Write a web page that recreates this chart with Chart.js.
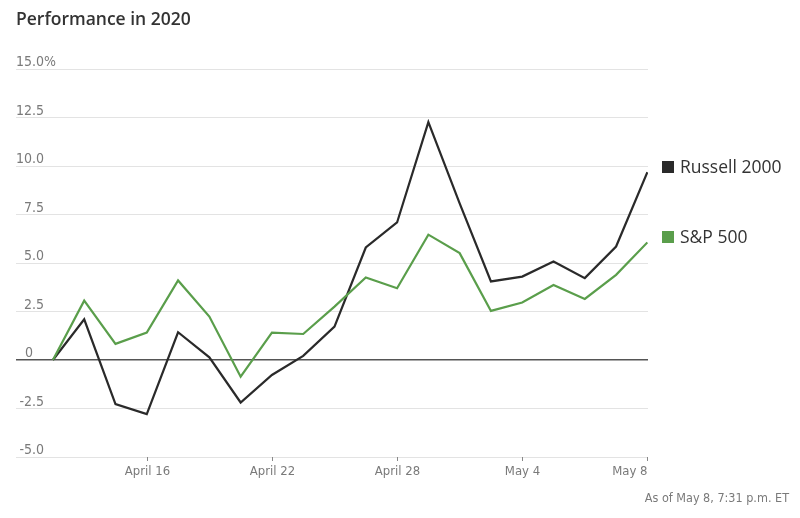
<!DOCTYPE html>
<html>
<head>
<meta charset="utf-8">
<script src="https://cdn.jsdelivr.net/npm/chart.js@4"></script>
<style>
  html, body { margin: 0; padding: 0; background: #fff; }
  #wrap { width: 800px; height: 518px; position: relative; }
</style>
</head>
<body>
<div id="wrap"><canvas id="c" width="800" height="518"></canvas></div>
<script>
const dates = ["Apr 13","Apr 14","Apr 15","Apr 16","Apr 17","Apr 20","Apr 21","Apr 22","Apr 23","Apr 24",
               "Apr 27","Apr 28","Apr 29","Apr 30","May 1","May 4","May 5","May 6","May 7","May 8"];
const russell = [0, 2.10, -2.27, -2.79, 1.43, 0.14, -2.19, -0.77, 0.21, 1.72,
                 5.80, 7.09, 12.26, 8.07, 4.05, 4.30, 5.08, 4.22, 5.85, 9.68];
const sp500 = [0, 3.06, 0.83, 1.41, 4.10, 2.24, -0.86, 1.41, 1.34, 2.75,
               4.25, 3.70, 6.46, 5.51, 2.53, 2.96, 3.87, 3.15, 4.39, 6.06];
const seriesNames = ["Russell 2000", "S&P 500"];
const xTickIndex = [3, 7, 11, 15, 19];
const xTickLabels = ["April 16", "April 22", "April 28", "May 4", "May 8"];
const yTickValues = [15, 12.5, 10, 7.5, 5, 2.5, 0, -2.5, -5];
const yTickLabels = ["15.0", "12.5", "10.0", "7.5", "5.0", "2.5", "0", "-2.5", "-5.0"];
const titleText = "Performance in 2020";
const noteText = "As of May 8, 7:31 p.m. ET";

const BLACK = "#2a2a2a";
const GREEN = "#5a9e4b";
const NARROW = "'Liberation Sans Narrow', 'DejaVu Sans Condensed', 'Liberation Sans', sans-serif";

const toPts = arr => arr.map((v, i) => ({ x: i, y: v }));

const textPlugin = {
  id: "texts",
  afterDraw(chart) {
    const ctx = chart.ctx;
    const xs = chart.scales.x, ys = chart.scales.y;
    ctx.save();
    ctx.fillStyle = "#333";
    ctx.font = "600 17.5px 'Open Sans', 'Noto Sans', sans-serif";
    ctx.textAlign = "left";
    ctx.textBaseline = "middle";
    ctx.fillText(titleText, 16, 20);

    ctx.fillStyle = "#7a7a7a";
    ctx.font = "14px " + NARROW;
    ctx.textBaseline = "alphabetic";
    yTickValues.forEach((v, i) => {
      const y = ys.getPixelForValue(v) - 3;
      const t = yTickLabels[i];
      if (t === "0") {
        ctx.textAlign = "left";
        ctx.fillText(t, 25, y);
      } else {
        ctx.textAlign = "right";
        ctx.fillText(t, 44, y);
        if (i === 0) { ctx.textAlign = "left"; ctx.fillText("%", 44, y); }
      }
    });

    const bottom = ys.getPixelForValue(-5);
    ctx.strokeStyle = "#888";
    ctx.lineWidth = 1;
    ctx.textBaseline = "middle";
    ctx.font = "13px " + NARROW;
    xTickIndex.forEach((idx, i) => {
      const x = Math.round(xs.getPixelForValue(idx)) + 0.5;
      ctx.beginPath();
      ctx.moveTo(x, bottom);
      ctx.lineTo(x, bottom + 4);
      ctx.stroke();
      const last = i === xTickIndex.length - 1;
      ctx.textAlign = last ? "right" : "center";
      ctx.fillText(xTickLabels[i], x, bottom + 15);
    });

    ctx.font = "12.5px " + NARROW;
    ctx.textAlign = "right";
    ctx.fillText(noteText, 789, 499);

    const ends = [russell[russell.length - 1], sp500[sp500.length - 1]];
    const cols = [BLACK, GREEN];
    ctx.font = "17.5px 'Open Sans', 'Noto Sans', sans-serif";
    ctx.textAlign = "left";
    ends.forEach((v, i) => {
      const y = ys.getPixelForValue(v) - 5;
      ctx.fillStyle = cols[i];
      ctx.fillRect(662, Math.round(y - 6), 12, 12);
      ctx.fillStyle = "#333";
      ctx.fillText(seriesNames[i], 680, y + 1);
    });
    ctx.restore();
  }
};

new Chart(document.getElementById("c"), {
  type: "line",
  data: {
    datasets: [
      { label: seriesNames[1], data: toPts(sp500), borderColor: GREEN, borderWidth: 2.2, pointRadius: 0, tension: 0 },
      { label: seriesNames[0], data: toPts(russell), borderColor: BLACK, borderWidth: 2.2, pointRadius: 0, tension: 0 }
    ]
  },
  options: {
    responsive: false,
    animation: false,
    layout: { padding: { left: 16, right: 152, top: 69, bottom: 61 } },
    plugins: { legend: { display: false }, tooltip: { enabled: false }, title: { display: false } },
    scales: {
      x: { type: "linear", display: false, min: -1.18, max: 19.02 },
      y: {
        min: -5, max: 15,
        ticks: { display: false, stepSize: 2.5 },
        border: { display: false },
        grid: {
          drawTicks: false,
          color: c => c.tick && c.tick.value === 0 ? "#555" : "#e3e3e3",
          lineWidth: c => c.tick && c.tick.value === 0 ? 1.5 : 1
        }
      }
    }
  },
  plugins: [textPlugin]
});
</script>
</body>
</html>
